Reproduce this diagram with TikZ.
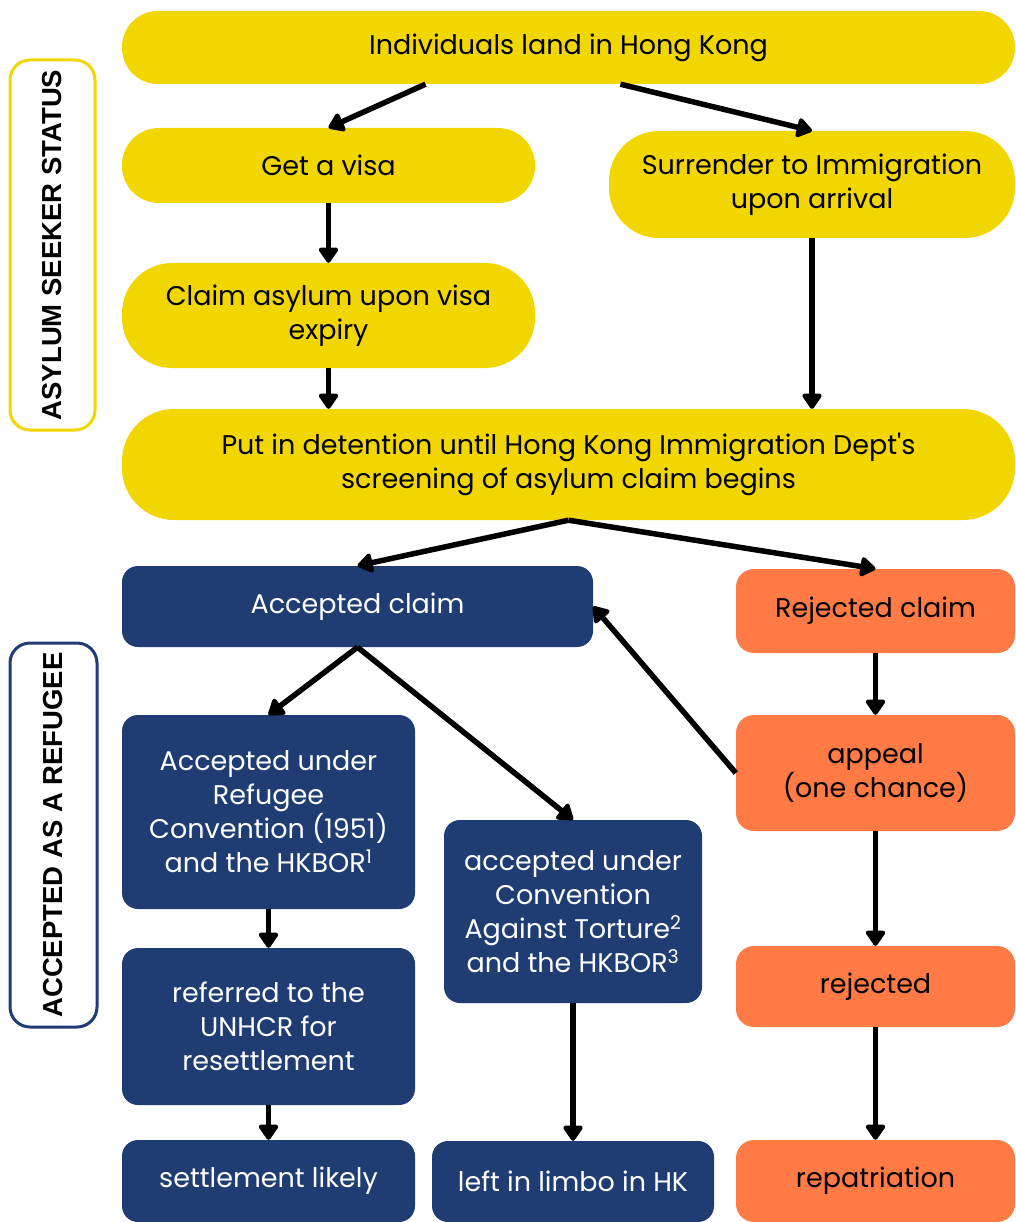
\documentclass[tikz,border=0pt]{standalone}
\usepackage{fontspec}
\setmainfont{Poppins}
\newfontfamily\sidefont{Liberation Sans}
\usetikzlibrary{arrows.meta, positioning, calc}
\definecolor{flowyellow}{RGB}{242,214,0}
\definecolor{flownavy}{RGB}{31,61,115}
\definecolor{floworange}{RGB}{255,122,69}
\newcommand{\flowfont}{\fontsize{27}{34}\selectfont}
\tikzset{
    yellowbox/.style={rectangle, fill=flowyellow, text=black, align=center, inner sep=0pt, font=\flowfont},
    navybox/.style={rectangle, rounded corners=16pt, fill=flownavy, text=white, align=center, inner sep=0pt, font=\flowfont},
    orangebox/.style={rectangle, rounded corners=18pt, fill=floworange, text=black, align=center, inner sep=0pt, font=\flowfont},
    sidebox/.style={rectangle, rounded corners=20pt, line width=3pt, fill=white, rotate=90, inner sep=0pt, font=\sidefont\bfseries\fontsize{27.5}{30}\selectfont},
    arrow/.style={-{Triangle[length=17pt,width=22pt,round]}, line width=5.5pt, black},
}

\begin{document}
\begin{tikzpicture}[x=1pt,y=-1pt]
\useasboundingbox (0,0) rectangle (1015,1222);
% asylum seeker stage
\node[yellowbox,rounded corners=36pt,minimum width=893pt,minimum height=73pt] (land) at (568.5,47.5) {Individuals land in Hong Kong};
\node[yellowbox,rounded corners=37pt,minimum width=413pt,minimum height=75pt] (visa) at (328.5,165.5) {Get a visa};
\node[yellowbox,rounded corners=50pt,minimum width=406pt,minimum height=107pt] (surr) at (812,184.5) {Surrender to Immigration\\upon arrival};
\node[yellowbox,rounded corners=50pt,minimum width=413pt,minimum height=105pt] (claim) at (328.5,315.5) {Claim asylum upon visa\\expiry};
\node[yellowbox,rounded corners=52pt,minimum width=893pt,minimum height=111pt] (detain) at (568.5,464.5) {Put in detention until Hong Kong Immigration Dept\textquotesingle s\\screening of asylum claim begins};
% decision
\node[navybox,minimum width=471pt,minimum height=81pt] (acc) at (357.5,606.5) {Accepted claim};
\node[orangebox,minimum width=279pt,minimum height=84pt] (rej) at (875.5,611) {Rejected claim};
% refugee stage
\node[navybox,minimum width=293pt,minimum height=194pt] (refconv) at (268.5,812) {Accepted under\\Refugee\\Convention (1951)\\and the HKBOR\textsuperscript{1}};
\node[navybox,minimum width=258pt,minimum height=183pt] (cat) at (573,911.5) {accepted under\\Convention\\Against Torture\textsuperscript{2}\\and the HKBOR\textsuperscript{3}};
\node[orangebox,minimum width=279pt,minimum height=116pt] (appeal) at (875.5,773) {appeal\\(one chance)};
\node[navybox,minimum width=293pt,minimum height=157pt] (unhcr) at (268.5,1026.5) {referred to the\\UNHCR for\\resettlement};
\node[orangebox,minimum width=279pt,minimum height=81pt] (rejd) at (875.5,986.5) {rejected};
\node[navybox,minimum width=293pt,minimum height=82pt] (settle) at (268.5,1181) {settlement likely};
\node[navybox,minimum width=282pt,minimum height=81pt] (limbo) at (573,1181.5) {left in limbo in HK};
\node[orangebox,minimum width=279pt,minimum height=82pt] (repat) at (875.5,1181) {repatriation};
% side labels
\node[sidebox,draw=flowyellow,minimum width=370pt,minimum height=85pt] (seeker) at (52.5,245) {ASYLUM SEEKER STATUS};
\node[sidebox,draw=flownavy,minimum width=384pt,minimum height=87pt] (refugee) at (53.5,835) {ACCEPTED AS A REFUGEE};

\draw[arrow] ([xshift=-143pt]land.south) -- (visa.north);
\draw[arrow] ([xshift=52pt]land.south) -- (surr.north);
\draw[arrow] (visa.south) -- (claim.north);
\draw[arrow] (claim.south) -- (detain.north -| claim.south);
\draw[arrow] (surr.south) -- (detain.north -| surr.south);
\draw[arrow] (detain.south) -- (acc.north);
\draw[arrow] (detain.south) -- (rej.north);
\draw[arrow] (acc.south) -- (refconv.north);
\draw[arrow] (acc.south) -- (cat.north);
\draw[arrow] (rej.south) -- (appeal.north);
\draw[arrow] (appeal.west) -- (acc.east);
\draw[arrow] (appeal.south) -- (rejd.north);
\draw[arrow] (rejd.south) -- (repat.north);
\draw[arrow] (refconv.south) -- (unhcr.north);
\draw[arrow] (unhcr.south) -- (settle.north);
\draw[arrow] (cat.south) -- (limbo.north);
\end{tikzpicture}
\end{document}
